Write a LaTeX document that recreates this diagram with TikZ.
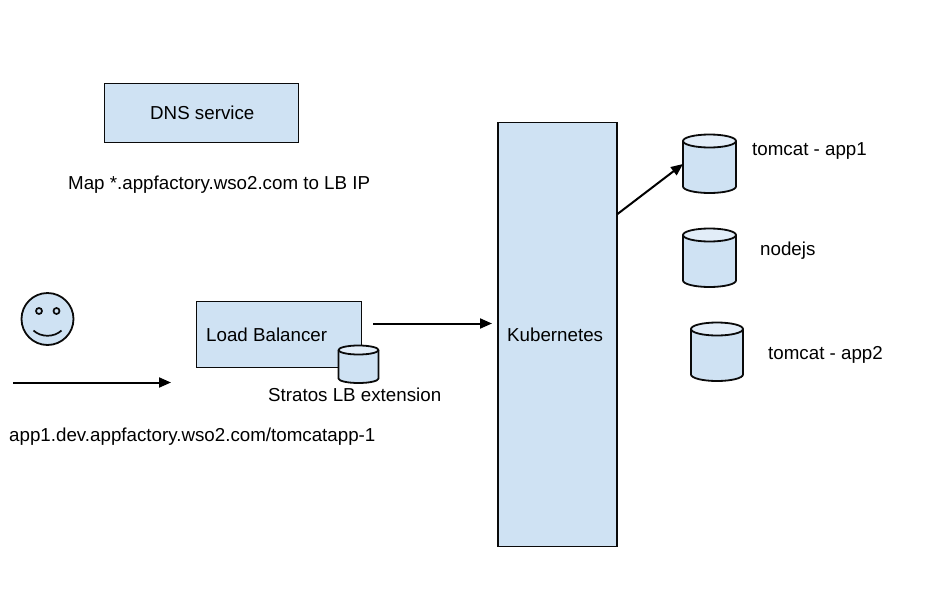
\documentclass[tikz,border=0pt]{standalone}
\usepackage{fontspec}
\setmainfont{Liberation Sans}
\usetikzlibrary{arrows.meta}
\definecolor{boxfill}{HTML}{CFE2F3}
\definecolor{capfill}{HTML}{E2EDF8}
\definecolor{ink}{HTML}{0A0A0A}
\tikzset{
  x=1pt,y=-1pt,
  box/.style={draw=ink,fill=boxfill,line width=1.8pt,rectangle,minimum width=#1,inner sep=0pt,outer sep=0pt,anchor=north west},
  lbl/.style={inner sep=0pt,anchor=base west,font=\fontsize{18.75}{22}\selectfont,text=black},
  conn/.style={draw=black,line width=2pt,-{Triangle[length=12pt,width=10pt]}},
  cylline/.style={draw=ink,line width=1.8pt,line join=round},
  faceline/.style={draw=ink,line width=1.7pt},
  eye/.style={draw=ink,line width=1.7pt,circle,minimum size=6pt,inner sep=0pt,outer sep=0pt}
}
% name, centre x, top y, bottom y, half width, ellipse y radius
\newcommand{\cylnode}[6]{%
  \node[minimum width=#5*2pt,minimum height=#4pt-#3pt,inner sep=0pt,outer sep=0pt] (#1) at (#2,{(#3+#4)/2}) {};
  \fill[boxfill] (#2-#5,#3+#6) -- (#2-#5,#4-#6) arc[start angle=180,end angle=360,x radius=#5,y radius=-#6] -- (#2+#5,#3+#6) -- cycle;
  \fill[capfill] (#2,#3+#6) ellipse[x radius=#5,y radius=#6];
  \draw[cylline] (#2-#5,#3+#6) -- (#2-#5,#4-#6) arc[start angle=180,end angle=360,x radius=#5,y radius=-#6] -- (#2+#5,#3+#6);
  \draw[cylline] (#2,#3+#6) ellipse[x radius=#5,y radius=#6];
}
\begin{document}
\begin{tikzpicture}
\useasboundingbox (0,0) rectangle (937,608);
% boxes
\node[box=194pt,minimum height=59pt] (dns) at (104.5,83.5) {};
\node[box=119pt,minimum height=424pt] (kube) at (498,122.5) {};
\node[box=165pt,minimum height=66pt] (lb) at (196.5,301.5) {};
% cylinders
\cylnode{c1}{709.5}{134.5}{193}{26.5}{6.5}
\cylnode{c2}{709.5}{228.5}{287}{26.5}{6.5}
\cylnode{c3}{717}{322.5}{381}{26}{6.5}
\cylnode{c4}{358.5}{345.5}{383}{20}{4.5}
% face
\node[draw=ink,fill=boxfill,line width=1.8pt,circle,minimum size=52pt,inner sep=0pt,outer sep=0pt] (face) at (47.5,319) {};
\node[eye] (eyeL) at (39,311) {};
\node[eye] (eyeR) at (56.5,311) {};
\draw[faceline] (33.5,330.5) .. controls (41,337.5) and (54,337.5) .. (61.5,330.5);
% connectors
\coordinate (userstart) at (13,382.5);
\coordinate (userend) at (171,382.5);
\coordinate (lbout) at (373,323.5);
\coordinate (kubein) at (492,323.5);
\coordinate (kubeout) at (617.5,214);
\coordinate (c1in) at (683,164);
\draw[conn] (userstart) -- (userend);
\draw[conn] (lbout) -- (kubein);
\draw[conn] (kubeout) -- (c1in);
% labels
\node[lbl] (tdns) at (150,119.5) {DNS service};
\node[lbl] (tmap) at (68,189.5) {Map *.appfactory.wso2.com to LB IP};
\node[lbl] (tlb) at (206,341) {Load Balancer};
\node[lbl] (tkube) at (507,341) {Kubernetes};
\node[lbl] (text) at (268,401) {Stratos LB extension};
\node[lbl] (turl) at (9,441) {app1.dev.appfactory.wso2.com/tomcatapp-1};
\node[lbl] (tc1) at (752,155) {tomcat - app1};
\node[lbl] (tc2) at (760,255) {nodejs};
\node[lbl] (tc3) at (768,359) {tomcat - app2};
\end{tikzpicture}
\end{document}
